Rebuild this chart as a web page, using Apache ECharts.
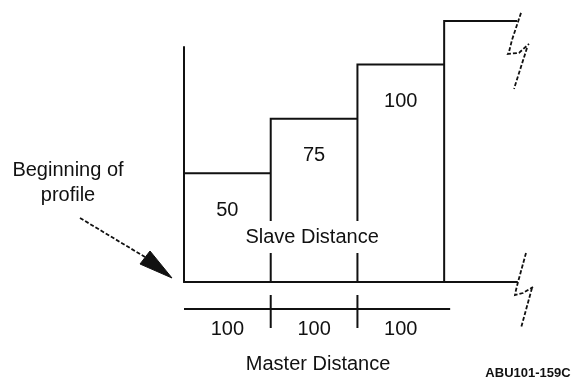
<!DOCTYPE html>
<html>
<head>
<meta charset="utf-8">
<script src="https://cdn.jsdelivr.net/npm/echarts@6/dist/echarts.min.js"></script>
<style>
  html, body { margin: 0; padding: 0; background: #fff; }
  #chart { width: 577px; height: 380px; }
</style>
</head>
<body>
<div id="chart"></div>
<script>
// Profile segments: master distance covered by each step and the slave distance of each step
const masterSegments = [100, 100, 100];
const masterLabels = ['100', '100', '100'];
const slaveSteps = [50, 75, 100, 120];
const slaveLabels = ['50', '75', '100', ''];
const slaveAxisMax = 108;
const masterAxisMax = 384;
const slaveTitle = 'Slave Distance';
const masterTitle = 'Master Distance';
const startNote = 'Beginning of\nprofile';
const figureId = 'ABU101-159C';

const INK = '#111';
const FONT_FAMILY = '"Liberation Sans", Arial, Helvetica, sans-serif';

// cumulative master position at which each step starts
const stepStarts = [];
let acc = 0;
slaveSteps.forEach((v, i) => { stepStarts.push(acc); acc += (masterSegments[i] || 0); });

const stepData = slaveSteps.map((v, i) => [
  stepStarts[i],
  i + 1 < slaveSteps.length ? stepStarts[i + 1] : masterAxisMax,
  v
]);
const masterData = masterSegments.map((w, i) => [stepStarts[i], stepStarts[i] + w]);

function textStyle(text, size, extra) {
  return Object.assign({
    text: text,
    fill: INK,
    fontSize: size,
    fontFamily: FONT_FAMILY,
    align: 'center',
    verticalAlign: 'middle'
  }, extra || {});
}

function renderStep(params, api) {
  const x0 = api.value(0), x1 = api.value(1), h = api.value(2);
  const pBase = api.coord([x0, 0]);
  const pTop0 = api.coord([x0, h]);
  const pTop1 = api.coord([x1, h]);
  const children = [{
    type: 'polyline',
    shape: { points: [pBase, pTop0, pTop1] },
    style: { stroke: INK, lineWidth: 2, fill: 'none' }
  }];
  const label = slaveLabels[params.dataIndex];
  if (label) {
    children.push({
      type: 'text',
      x: (pTop0[0] + pTop1[0]) / 2,
      y: pTop0[1] + 37,
      style: textStyle(label, 20)
    });
  }
  return { type: 'group', children: children };
}

function renderMaster(params, api) {
  const i = params.dataIndex;
  const last = i === masterData.length - 1;
  const p0 = api.coord([api.value(0), 0]);
  const p1 = api.coord([api.value(1), 0]);
  const lineY = p0[1] + 27;
  const children = [{
    type: 'line',
    shape: { x1: p0[0], y1: lineY, x2: p1[0] + (last ? 6 : 0), y2: lineY },
    style: { stroke: INK, lineWidth: 2 }
  }];
  if (i > 0) {
    children.push({
      type: 'line',
      shape: { x1: p0[0], y1: p0[1] + 13, x2: p0[0], y2: p0[1] + 46 },
      style: { stroke: INK, lineWidth: 2 }
    });
  }
  children.push({
    type: 'text',
    x: (p0[0] + p1[0]) / 2,
    y: p0[1] + 47,
    style: textStyle(masterLabels[i], 20)
  });
  return { type: 'group', children: children };
}

const chart = echarts.init(document.getElementById('chart'), null, { renderer: 'canvas' });

chart.setOption({
  animation: false,
  backgroundColor: '#fff',
  grid: { left: 184, top: 47, width: 333, height: 235, containLabel: false },
  xAxis: {
    type: 'value', min: 0, max: masterAxisMax,
    axisLine: { show: true, lineStyle: { color: INK, width: 2 } },
    axisTick: { show: false }, axisLabel: { show: false }, splitLine: { show: false }
  },
  yAxis: {
    type: 'value', min: 0, max: slaveAxisMax,
    axisLine: { show: true, lineStyle: { color: INK, width: 2 } },
    axisTick: { show: false }, axisLabel: { show: false }, splitLine: { show: false }
  },
  series: [
    { type: 'custom', name: 'steps', renderItem: renderStep, data: stepData, clip: false, silent: true, z: 3 },
    { type: 'custom', name: 'master', renderItem: renderMaster, data: masterData, clip: false, silent: true, z: 3 }
  ]
});

// annotations placed relative to the profile's origin and far ends
const origin = chart.convertToPixel({ gridIndex: 0 }, [0, 0]);
const midSlave = chart.convertToPixel({ gridIndex: 0 }, [(stepStarts[1] + stepStarts[2]) / 2, 0]);
const topEnd = chart.convertToPixel({ gridIndex: 0 }, [masterAxisMax, slaveSteps[slaveSteps.length - 1]]);
const baseEnd = chart.convertToPixel({ gridIndex: 0 }, [masterAxisMax, 0]);

function offsetPts(base, pts) {
  return pts.map(p => [base[0] + p[0], base[1] + p[1]]);
}
const dashed = { stroke: INK, lineWidth: 1.8, fill: 'none', lineDash: [4, 2] };

chart.setOption({
  graphic: [
    {
      type: 'text', z: 10,
      x: midSlave[0] - 2, y: origin[1] - 45,
      style: textStyle(slaveTitle, 20, { backgroundColor: '#fff', padding: [6, 3] })
    },
    {
      type: 'text', z: 10,
      x: midSlave[0] + 4, y: origin[1] + 82,
      style: textStyle(masterTitle, 20)
    },
    {
      type: 'text', z: 10,
      x: origin[0] - 116, y: origin[1] - 99,
      style: textStyle(startNote, 20, { lineHeight: 25 })
    },
    {
      type: 'polyline', z: 10,
      shape: { points: offsetPts(origin, [[-104, -64], [-39, -25]]) },
      style: dashed
    },
    {
      type: 'polygon', z: 10,
      shape: { points: offsetPts(origin, [[-12, -4], [-34, -31], [-44, -18]]) },
      style: { fill: INK, stroke: INK, lineWidth: 1 }
    },
    {
      type: 'polyline', z: 10,
      shape: { points: offsetPts(topEnd, [[4, -8], [-5, 19], [-8, 31], [-9, 33], [2, 32], [12, 23]]) },
      style: dashed
    },
    {
      type: 'polyline', z: 10,
      shape: { points: offsetPts(topEnd, [[10, 27], [-3, 68]]) },
      style: dashed
    },
    {
      type: 'polyline', z: 10,
      shape: { points: offsetPts(baseEnd, [[9, -29], [1, 0], [-1, 8], [-2, 13], [6, 11], [16, 5]]) },
      style: dashed
    },
    {
      type: 'polyline', z: 10,
      shape: { points: offsetPts(baseEnd, [[15, 6], [4, 46]]) },
      style: dashed
    },
    {
      type: 'text', z: 10,
      x: 528, y: 373,
      style: textStyle(figureId, 13, { fontWeight: 'bold' })
    }
  ]
});
</script>
</body>
</html>
